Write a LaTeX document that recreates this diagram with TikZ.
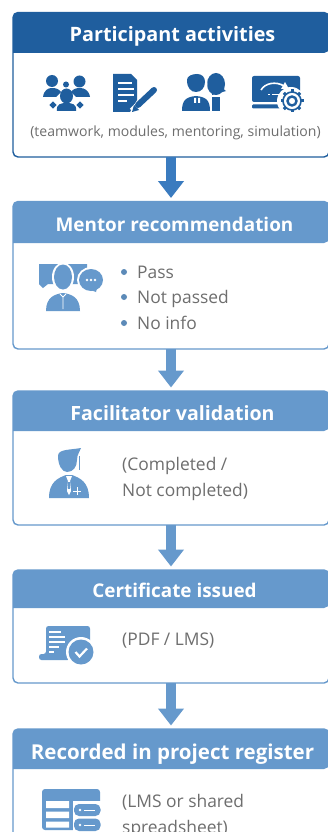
\documentclass[tikz,border=0pt]{standalone}
\usepackage{fontspec}
\setmainfont{Open Sans}
\usetikzlibrary{arrows.meta,calc}
\definecolor{dk}{HTML}{1F5E9E}
\definecolor{lt}{HTML}{6699CC}
\definecolor{arrdk}{HTML}{3A7BBF}
\definecolor{txt}{HTML}{6E6E6E}
\tikzset{
  boxshape/.style={draw=#1,line width=1.4pt,fill=white,rounded corners=5pt,minimum width=316pt,inner sep=0pt,outer sep=0pt},
  titletext/.style={text=white,font=\bfseries\fontsize{#1}{20}\selectfont,inner sep=0pt,anchor=base},
  bodytext/.style={text=txt,font=\fontsize{17.4}{20}\selectfont,anchor=base west,inner sep=0pt},
  smalltext/.style={text=txt,font=\fontsize{14.05}{18}\selectfont,inner sep=0pt,anchor=base},
  flowarrow/.style={draw=#1,line width=10pt,-{Triangle[width=25pt,length=17pt]},shorten >=3.5pt},
  bulletdot/.style={circle,fill=lt!90!black,minimum size=6pt,inner sep=0pt},
}
% name, top, header bottom, bottom, colour, title, title size, title centre x, baseline
\newcommand{\flowbox}[9]{%
  \node[boxshape=#5,minimum height={(#4-#2)*1pt}] (#1) at (171,{(#2+#4)/2}) {};
  \fill[#5,rounded corners=5pt] (13,#3) -- (13,#2) -- (329,#2) -- (329,#3) [sharp corners] -- cycle;
  \node[titletext=#7] (#1t) at (#8,#9) {#6};
}
\begin{document}
\begin{tikzpicture}[x=1pt,y=-1pt]
\useasboundingbox (0,0) rectangle (328,832);
\clip (0,0) rectangle (328,832);
\fill[white] (0,0) rectangle (328,832);
\flowbox{bA}{12.5}{53}{157}{dk}{Participant activities}{19.8}{172.5}{41.5}
\flowbox{bB}{201.5}{243}{349}{lt}{Mentor recommendation}{18.9}{174.5}{231.5}
\flowbox{bC}{391}{431}{525}{lt}{Facilitator validation}{19.6}{172.5}{420.5}
\flowbox{bD}{570}{608}{683}{lt}{Certificate issued}{18.9}{174.5}{597}
\flowbox{bE}{729}{769}{900}{lt}{Recorded in project register}{20.5}{172.5}{759}

\draw[flowarrow=arrdk] (bA.south) -- (bB.north);
\draw[flowarrow=lt] (bB.south) -- (bC.north);
\draw[flowarrow=lt] (bC.south) -- (bD.north);
\draw[flowarrow=lt] (bD.south) -- (bE.north);

% --- teamwork icon
\begin{scope}[dk]
\fill (52,81) circle (6);
\fill (79.5,81.5) circle (6);
\fill (66,84.5) circle (3);
\fill (43,97) .. controls (44,90) and (48,88) .. (52,88) .. controls (56,88) and (59,89) .. (61,92) -- (56,97) -- cycle;
\fill (90,97) .. controls (89,90) and (84,88) .. (80,88) .. controls (76,88) and (73,89) .. (71,92) -- (76,97) -- cycle;
\fill (66.5,96) ellipse (6.5 and 7.5);
\fill (57,111) .. controls (56,104) and (61,103) .. (66.5,103) .. controls (72,103) and (77,104) .. (76,111) -- cycle;
\fill[rotate around={45:(53,105)}] (50.5,102.5) rectangle (55.5,107.5);
\fill[rotate around={45:(80,105)}] (77.5,102.5) rectangle (82.5,107.5);
% --- modules icon
\fill (113,74) -- (131,74) -- (137,80) -- (137,100) -- (130,112) -- (113,112) -- cycle;
\foreach \yy/\xx in {83/132,89/134,95/134,101/127} \draw[white,line width=1.3pt] (118,\yy) -- (\xx,\yy);
\draw[white,line width=9pt] (133,112) -- (155,90);
\draw[dk,line width=6pt,line cap=round] (138,105) -- (154,90);
\fill[dk] (132,112) -- (134,105) -- (139,110) -- cycle;
% --- mentoring icon
\fill (216,84) ellipse (9 and 11);
\fill (216,74) .. controls (222,76) and (222,90) .. (226,91) -- (212,95) -- cycle;
\fill (212,97) rectangle (220,111);
\fill[white] (196,84) ellipse (11.5 and 13);
\fill[white] (180,112) rectangle (212,95);
\fill (187,80) .. controls (187,76) and (192,74) .. (197,74) .. controls (202,74) and (205,77) .. (205,82) .. controls (205,88) and (201,92) .. (196,92) .. controls (191,92) and (187,88) .. (187,80) -- cycle;
\fill (182,111) .. controls (182,100) and (186,97) .. (196,96) .. controls (206,97) and (210,100) .. (210,111) -- cycle;
\fill[white] (194,98) rectangle (196,103) (198,98) rectangle (200,103);
% --- simulation icon
\fill[rounded corners=2pt] (252,76) rectangle (300,102);
\fill[rounded corners=1pt] (252,104.5) rectangle (288,108.5);
\draw[white,line width=1.6pt] (261,90) .. controls (265,83) and (276,81) .. (284,86);
\fill[white] (289,89) -- (281,89) -- (285,82) -- cycle;
\draw[white,line width=1.5pt] (268,94.5) -- (270,94.5) (272,94.5) -- (281,94.5);
\fill[white] (291,101) circle (14);
\draw[dk,line width=1.6pt] (292,101) circle (9);
\draw[dk,line width=2.4pt] (292,101) circle (4.5);
\foreach \a in {0,45,...,315} \draw[dk,line width=3pt] ($(292,101)+(\a:8.5)$) -- ($(292,101)+(\a:11.5)$);
\end{scope}
\node[smalltext] (capA) at (175.5,136) {(teamwork, modules, mentoring, simulation)};

% --- mentor icon
\begin{scope}[lt]
\fill (39,264) rectangle (87,284) (39,284) -- (48,284) -- (43,288) -- cycle;
\fill[white] (63,277) ellipse (11 and 14.5);
\fill (63,277) ellipse (9 and 12.5);
\fill[white] (44,313) rectangle (82,291);
\fill (46,311) .. controls (46,297) and (55,294) .. (63,293) .. controls (71,294) and (80,297) .. (80,311) -- cycle;
\draw[white,line width=.8pt] (60,294) -- (63,297) -- (66,294) (63,297) -- (63,309);
\fill[white] (91,280) ellipse (14 and 13);
\fill (91,280) ellipse (12 and 11);
\fill (88,289) -- (97,288) -- (96,292) -- cycle;
\foreach \xx in {87,91,95} \fill[white] (\xx,280) circle (1.4);
\end{scope}
\node[bulletdot] (d1) at (124,272) {};
\node[bulletdot] (d2) at (124,297) {};
\node[bulletdot] (d3) at (124,323) {};
\node[bodytext] (t1) at (137,278) {Pass};
\node[bodytext] (t2) at (137,303) {Not passed};
\node[bodytext] (t3) at (137,329) {No info};

% --- facilitator icon
\begin{scope}[lt]
\fill (58,456) .. controls (58,449) and (70,450) .. (81,448) .. controls (80,452) and (77,454) .. (77,460) .. controls (77,467) and (73,472) .. (67,472) .. controls (62,472) and (58,465) .. (58,456) -- cycle;
\draw[lt,line width=1.2pt] (79.5,456) -- (79.5,470);
\fill (49,498) .. controls (49,482) and (58,478) .. (66,475) -- (72,475) .. controls (80,478) and (89,482) .. (89,498) -- cycle;
\fill[white] (66,476) -- (72,476) -- (70,481) -- (71,491) -- (69,495) -- (67,491) -- (68,481) -- cycle;
\fill[lt] (68,482) -- (70,482) -- (70,489) -- (68,489) -- cycle;
\draw[white,line width=.9pt] (73,491) -- (81,491) (77,487) -- (77,495);
\end{scope}
\node[bodytext] (t4) at (122,470) {(Completed /};
\node[bodytext] (t5) at (122,496.5) {Not completed)};

% --- certificate icon
\begin{scope}[lt]
\fill[rounded corners=2.5pt] (46,626) -- (90,626) -- (90,650) -- (70,660) -- (39,660) -- (39,654) -- (46,654) -- cycle;
\foreach \yy/\xx in {632/61,637/65,642/65,647/59,652/54} \draw[white,line width=1.2pt] (49,\yy) -- (\xx,\yy);
\fill[white] (81,652) circle (15);
\fill (81,652) circle (12.5);
\draw[white,line width=2.2pt] (75.5,652) -- (79.5,656.5) -- (87,648.5);
\end{scope}
\node[bodytext] (t6) at (122,645) {(PDF / LMS)};

% --- register icon
\begin{scope}[lt]
\fill[rounded corners=3pt] (42,789) rectangle (100,830);
\fill[white] (46,801) rectangle (69,808) (46,811.5) rectangle (69,818) (46,821.5) rectangle (69,827.5);
\fill[white] (72.5,801) rectangle (102,832);
\fill[rounded corners=5pt] (74,804) rectangle (100.5,816);
\fill[rounded corners=5pt] (74,818.5) rectangle (100.5,831);
\fill[white] (80,810) circle (1.3) (80,825) circle (1.3);
\draw[white,line width=1pt] (84,810) -- (95,810) (84,825) -- (95,825);
\end{scope}
\node[bodytext] (t7) at (122,807) {(LMS or shared};
\node[bodytext] (t8) at (122,833) {spreadsheet)};
\end{tikzpicture}
\end{document}
